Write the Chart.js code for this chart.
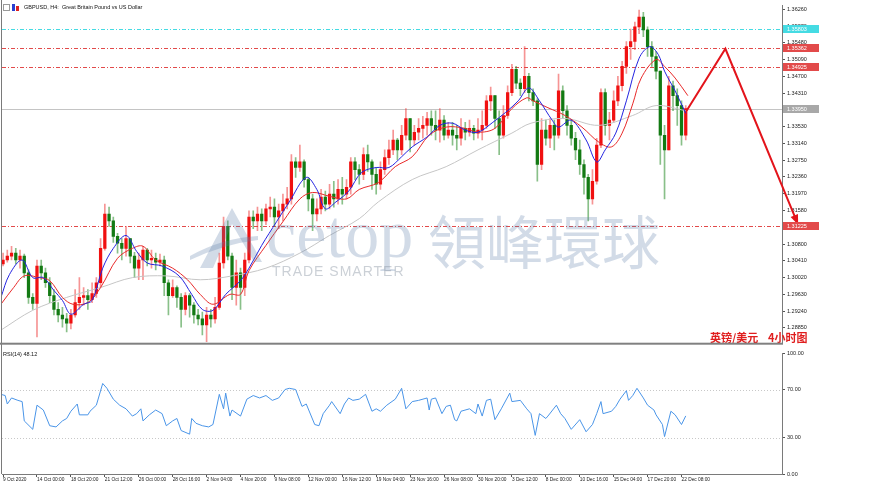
<!DOCTYPE html>
<html>
<head>
<meta charset="utf-8">
<script src="https://cdn.jsdelivr.net/npm/chart.js@4.4.0/dist/chart.umd.min.js"></script>
<style>
html, body { margin: 0; padding: 0; background: #fff; }
#wrap { position: relative; width: 870px; height: 487px; overflow: hidden; background: #fff; }
#main { position: absolute; left: 0; top: 0; }
#rsi { position: absolute; left: 0; top: 348px; }
</style>
</head>
<body>
<div id="wrap">
  <canvas id="main" width="870" height="348"></canvas>
  <canvas id="rsi" width="870" height="139"></canvas>
</div>
<script>
// GBPUSD H4 candles (one candle drawn per two 4h bars)
const firstOpen = 1.3034;
const closes = [
  1.3043,1.3052,1.3059,1.3043,1.3052,1.3013,1.2956,1.2942,1.3029,1.3013,
  1.2990,1.2960,1.2928,1.2915,1.2906,1.2896,1.2915,1.2944,1.2956,1.2960,
  1.2951,1.2965,1.2990,1.3070,1.3150,1.3134,1.3098,1.3082,1.3070,1.3093,
  1.3052,1.3024,1.3043,1.3066,1.3043,1.3047,1.3038,1.3043,1.2990,1.2960,
  1.2979,1.2956,1.2928,1.2960,1.2938,1.2915,1.2906,1.2892,1.2915,1.2906,
  1.2933,1.3036,1.3121,1.3052,1.2979,1.3013,1.2979,1.3043,1.3143,1.3134,
  1.3150,1.3134,1.3162,1.3166,1.3143,1.3157,1.3173,1.3185,1.3271,1.3258,
  1.3271,1.3230,1.3185,1.3150,1.3162,1.3189,1.3173,1.3196,1.3185,1.3207,
  1.3196,1.3212,1.3271,1.3253,1.3242,1.3288,1.3271,1.3242,1.3219,1.3253,
  1.3281,1.3299,1.3322,1.3299,1.3333,1.3372,1.3322,1.3340,1.3349,1.3356,
  1.3372,1.3356,1.3345,1.3368,1.3333,1.3345,1.3333,1.3326,1.3349,1.3340,
  1.3349,1.3338,1.3345,1.3356,1.3413,1.3425,1.3372,1.3333,1.3379,1.3432,
  1.3486,1.3454,1.3441,1.3470,1.3432,1.3413,1.3265,1.3345,1.3326,1.3356,
  1.3333,1.3436,1.3390,1.3356,1.3326,1.3299,1.3265,1.3235,1.3185,1.3226,
  1.3310,1.3432,1.3356,1.3368,1.3413,1.3448,1.3493,1.3539,1.3551,1.3585,
  1.3608,1.3578,1.3539,1.3516,1.3482,1.3333,1.3299,1.3448,1.3425,1.3402,
  1.3333,1.3395
];
const highs = [
  1.3059,1.3066,1.3075,1.3070,1.3066,1.3057,1.3020,1.2965,1.3043,1.3043,
  1.3024,1.3002,1.2974,1.2944,1.2933,1.2919,1.2928,1.2974,1.3002,1.2979,
  1.2974,1.2990,1.3002,1.3093,1.3173,1.3166,1.3143,1.3105,1.3093,1.3121,
  1.3093,1.3061,1.3059,1.3075,1.3070,1.3066,1.3059,1.3057,1.3052,1.2997,
  1.2997,1.2983,1.2965,1.2967,1.2965,1.2944,1.2928,1.2922,1.2933,1.2928,
  1.2956,1.3059,1.3143,1.3134,1.3059,1.3043,1.3024,1.3059,1.3157,1.3157,
  1.3166,1.3162,1.3173,1.3189,1.3185,1.3173,1.3196,1.3212,1.3288,1.3281,
  1.3310,1.3276,1.3235,1.3196,1.3185,1.3207,1.3203,1.3219,1.3226,1.3230,
  1.3235,1.3230,1.3281,1.3281,1.3265,1.3304,1.3310,1.3276,1.3258,1.3271,
  1.3299,1.3322,1.3345,1.3326,1.3356,1.3395,1.3372,1.3356,1.3372,1.3377,
  1.3386,1.3390,1.3390,1.3395,1.3379,1.3363,1.3363,1.3356,1.3372,1.3363,
  1.3368,1.3356,1.3372,1.3390,1.3425,1.3445,1.3425,1.3390,1.3402,1.3448,
  1.3498,1.3493,1.3464,1.3539,1.3477,1.3441,1.3418,1.3372,1.3368,1.3372,
  1.3368,1.3475,1.3448,1.3402,1.3368,1.3340,1.3322,1.3276,1.3242,1.3253,
  1.3326,1.3441,1.3441,1.3386,1.3436,1.3470,1.3505,1.3551,1.3580,1.3596,
  1.3624,1.3619,1.3585,1.3551,1.3528,1.3482,1.3356,1.3470,1.3459,1.3441,
  1.3413,1.3402
];
const lows = [
  1.3029,1.3038,1.3043,1.3034,1.3024,1.3002,1.2942,1.2928,1.2864,1.2997,
  1.2979,1.2944,1.2915,1.2899,1.2887,1.2876,1.2883,1.2910,1.2928,1.2938,
  1.2928,1.2944,1.2956,1.2979,1.3066,1.3121,1.3084,1.3059,1.3043,1.3052,
  1.3036,1.3002,1.2997,1.2997,1.3029,1.3024,1.3020,1.3029,1.2960,1.2915,
  1.2956,1.2933,1.2887,1.2915,1.2910,1.2896,1.2892,1.2869,1.2853,1.2887,
  1.2896,1.2928,1.3024,1.3043,1.2951,1.2938,1.2928,1.2960,1.3036,1.3116,
  1.3111,1.3111,1.3125,1.3143,1.3121,1.3116,1.3134,1.3162,1.3173,1.3235,
  1.3249,1.3212,1.3157,1.3111,1.3134,1.3150,1.3157,1.3162,1.3166,1.3173,
  1.3173,1.3185,1.3196,1.3230,1.3219,1.3230,1.3249,1.3207,1.3196,1.3207,
  1.3242,1.3265,1.3288,1.3276,1.3288,1.3322,1.3294,1.3310,1.3322,1.3326,
  1.3333,1.3333,1.3322,1.3317,1.3322,1.3326,1.3310,1.3299,1.3310,1.3322,
  1.3331,1.3322,1.3326,1.3322,1.3349,1.3390,1.3349,1.3288,1.3326,1.3372,
  1.3425,1.3441,1.3425,1.3432,1.3413,1.3402,1.3226,1.3253,1.3310,1.3304,
  1.3299,1.3326,1.3372,1.3333,1.3310,1.3276,1.3242,1.3196,1.3134,1.3173,
  1.3219,1.3304,1.3333,1.3322,1.3363,1.3402,1.3436,1.3477,1.3509,1.3532,
  1.3569,1.3562,1.3516,1.3493,1.3464,1.3265,1.3185,1.3299,1.3390,1.3356,
  1.3310,1.3322
];

// moving averages, [bar, price] read at points along each line
const fastMA = [
  [-1,1.2956],[3,1.3009],[9,1.3043],[14,1.3002],[19,1.3002],[24,1.2972],[28,1.2949],[32,1.2917],
  [38,1.2940],[42,1.2949],[47,1.3024],[52,1.3070],[58,1.3100],[63,1.3063],[68,1.3036],[75,1.3029],
  [83,1.3006],[89,1.2963],[94,1.2928],[99,1.2926],[105,1.2963],[112,1.2995],[116,1.3024],[122,1.3077],
  [129,1.3132],[135,1.3178],[143,1.3235],[148,1.3207],[152,1.3162],[157,1.3178],[163,1.3203],[169,1.3246],
  [176,1.3258],[182,1.3258],[188,1.3283],[193,1.3306],[200,1.3329],[206,1.3356],[212,1.3361],[218,1.3345],
  [224,1.3340],[231,1.3363],[237,1.3386],[243,1.3413],[248,1.3443],[253,1.3413],[259,1.3368],[262,1.3352],
  [268,1.3368],[275,1.3322],[280,1.3271],[284,1.3299],[289,1.3338],[294,1.3413],[300,1.3512],[305,1.3539],
  [309,1.3521],[312,1.3482],[317,1.3436],[322,1.3384]
];
const midMA = [
  [-1,1.2940],[5,1.2979],[10,1.3006],[17,1.3002],[22,1.2995],[28,1.2956],[33,1.2940],[40,1.2944],
  [46,1.2979],[54,1.3047],[61,1.3070],[66,1.3075],[72,1.3043],[80,1.3024],[87,1.2997],[93,1.2963],
  [99,1.2940],[107,1.2963],[112,1.2963],[116,1.3018],[124,1.3077],[132,1.3132],[140,1.3185],[146,1.3200],
  [154,1.3191],[162,1.3185],[168,1.3207],[177,1.3223],[185,1.3260],[193,1.3283],[201,1.3333],[209,1.3352],
  [218,1.3349],[224,1.3340],[232,1.3349],[240,1.3395],[247,1.3420],[250,1.3413],[257,1.3397],[265,1.3379],
  [273,1.3352],[281,1.3317],[287,1.3306],[292,1.3338],[297,1.3406],[301,1.3466],[308,1.3509],[312,1.3493],
  [317,1.3466],[323,1.3425]
];
const slowMA = [
  [-1,1.2880],[14,1.2926],[30,1.2956],[46,1.2979],[61,1.3002],[77,1.3006],[93,1.2997],[108,1.3006],
  [124,1.3024],[140,1.3059],[154,1.3100],[168,1.3139],[177,1.3178],[193,1.3230],[209,1.3260],[224,1.3299],
  [240,1.3338],[249,1.3361],[265,1.3372],[281,1.3356],[297,1.3379],[308,1.3402],[322,1.3390]
];

// RSI(14), [bar, value]
const rsiPoints = [
  [-1,66],[1,65],[2,58],[4,63],[7,61],[9,60],[10,44],[14,37],[16,57],[19,53],[22,40],[25,39],[28,44],
  [30,46],[32,52],[35,58],[36,49],[40,49],[41,52],[44,57],[47,75],[49,71],[52,62],[55,57],[58,54],
  [61,48],[63,50],[65,54],[66,44],[69,49],[72,53],[75,50],[77,40],[80,44],[82,46],[84,36],[88,33],
  [89,46],[91,42],[94,40],[97,39],[99,41],[102,66],[104,54],[105,67],[107,48],[108,53],[112,48],
  [115,62],[118,65],[121,63],[124,65],[127,61],[130,63],[133,70],[135,71],[138,70],[141,56],[143,58],
  [147,41],[149,40],[151,50],[154,57],[155,60],[159,50],[161,58],[163,63],[165,61],[168,62],[171,66],
  [174,52],[176,54],[178,52],[181,57],[185,62],[188,71],[190,54],[193,60],[196,61],[200,63],[201,53],
  [202,62],[204,63],[207,50],[209,56],[211,57],[213,45],[214,44],[216,52],[220,54],[223,50],[224,58],
  [226,48],[228,61],[230,62],[232,45],[235,54],[239,67],[240,60],[244,61],[247,54],[249,50],[251,32],
  [253,50],[256,46],[257,48],[261,57],[263,50],[265,46],[268,37],[272,45],[275,35],[278,41],[280,50],
  [282,60],[283,50],[287,52],[289,56],[291,62],[294,69],[295,61],[297,65],[299,71],[302,63],[304,57],
  [307,53],[308,49],[311,41],[312,31],[315,52],[317,49],[320,41],[322,48.12]
];

// hand drawn forecast arrow, [bar, price]
const arrowX = [322.4, 340.7, 375];
const arrowY = [1.3390, 1.3534, 1.3125];

// horizontal levels
const levelValues = [1.35803, 1.35362, 1.34925, 1.31225];
const levelColors = ['#45dbe3', '#e24a4a', '#e24a4a', '#e24a4a'];
const bidValue = 1.33950;

const priceTicks = [1.36260,1.35870,1.35480,1.35090,1.34700,1.34310,1.33920,1.33530,1.33140,1.32750,
  1.32360,1.31970,1.31580,1.31190,1.30800,1.30410,1.30020,1.29630,1.29240,1.28850];
const rsiTicks = [0, 30, 70, 100];
const rsiLevels = [30, 70];
const dateLabels = ['9 Oct 2020','14 Oct 00:00','18 Oct 20:00','21 Oct 12:00','26 Oct 00:00','28 Oct 16:00',
  '2 Nov 04:00','4 Nov 20:00','9 Nov 08:00','12 Nov 00:00','16 Nov 12:00','19 Nov 04:00','23 Nov 16:00',
  '26 Nov 08:00','30 Nov 20:00','3 Dec 12:00','8 Dec 00:00','10 Dec 16:00','15 Dec 04:00','17 Dec 20:00',
  '22 Dec 08:00'];

const X_MIN = -0.5, X_MAX = 367.4;
const Y_MIN = 1.28507, Y_MAX = 1.36351;
const FONT = 'Liberation Sans';
Chart.defaults.font.family = FONT;

const opens = closes.map((c, k) => k === 0 ? firstOpen : closes[k - 1]);
const candleX = closes.map((c, k) => 2 * k);
const upColor = '#f01010', downColor = '#137a13';
const bodyColors = closes.map((c, k) => c >= opens[k] ? upColor : downColor);
const wickColors = closes.map((c, k) => c >= opens[k] ? 'rgba(238,60,60,0.55)' : 'rgba(40,140,40,0.55)');

const toXY = arr => arr.map(p => ({ x: p[0], y: p[1] }));

const mainDecor = {
  id: 'mainDecor',
  beforeDraw(chart) {
    const ctx = chart.ctx;
    ctx.save();
    ctx.fillStyle = '#fff';
    ctx.fillRect(0, 0, chart.width, chart.height);
    ctx.restore();
  },
  beforeDatasetsDraw(chart) {
    const { ctx, chartArea: a, scales: { y } } = chart;
    ctx.save();
    // bid line
    const by = Math.round(y.getPixelForValue(bidValue)) + 0.5;
    ctx.strokeStyle = '#c4c4c4';
    ctx.lineWidth = 1;
    ctx.beginPath(); ctx.moveTo(a.left, by); ctx.lineTo(a.right, by); ctx.stroke();
    // dash-dot levels
    ctx.setLineDash([4, 2, 1, 2]);
    levelValues.forEach((v, i) => {
      const py = Math.round(y.getPixelForValue(v)) + 0.5;
      ctx.strokeStyle = levelColors[i];
      ctx.beginPath(); ctx.moveTo(a.left, py); ctx.lineTo(a.right, py); ctx.stroke();
    });
    ctx.restore();
  },
  afterDatasetsDraw(chart) {
    const { ctx, chartArea: a, scales: { x, y } } = chart;
    ctx.save();
    // arrow head
    const n = arrowX.length;
    const x1 = x.getPixelForValue(arrowX[n - 2]), y1 = y.getPixelForValue(arrowY[n - 2]);
    const x2 = x.getPixelForValue(arrowX[n - 1]), y2 = y.getPixelForValue(arrowY[n - 1]);
    const ang = Math.atan2(y2 - y1, x2 - x1);
    ctx.fillStyle = '#e3141b';
    ctx.beginPath();
    ctx.moveTo(x2, y2);
    ctx.lineTo(x2 - 10 * Math.cos(ang) + 4 * Math.sin(ang), y2 - 10 * Math.sin(ang) - 4 * Math.cos(ang));
    ctx.lineTo(x2 - 10 * Math.cos(ang) - 4 * Math.sin(ang), y2 - 10 * Math.sin(ang) + 4 * Math.cos(ang));
    ctx.closePath(); ctx.fill();

    // watermark: stylised "A" logo + "cetop 領峰環球" + tagline
    ctx.fillStyle = 'rgba(95,125,170,0.28)';
    ctx.beginPath();
    ctx.moveTo(200, 268); ctx.lineTo(232, 208); ctx.lineTo(262, 262); ctx.lineTo(254, 262);
    ctx.lineTo(232, 224); ctx.lineTo(213, 268); ctx.closePath(); ctx.fill();
    ctx.beginPath();
    ctx.moveTo(190, 256); ctx.quadraticCurveTo(222, 238, 258, 236); ctx.lineTo(258, 240);
    ctx.quadraticCurveTo(224, 244, 190, 260); ctx.closePath(); ctx.fill();
    ctx.font = '68px "Liberation Serif"';
    ctx.textBaseline = 'alphabetic';
    ctx.fillText('cetop', 266, 257);
    ctx.font = '58px "Noto Sans CJK TC"';
    ctx.textBaseline = 'middle';
    ctx.fillText('領峰環球', 428, 242);
    ctx.fillStyle = 'rgba(140,150,165,0.45)';
    ctx.font = '14px "Liberation Sans"';
    ctx.letterSpacing = '1px';
    ctx.fillText('TRADE SMARTER', 272, 272);
    ctx.letterSpacing = '0px';

    // title
    ctx.fillStyle = '#9a9a9a'; ctx.fillRect(3, 4, 7, 7);
    ctx.fillStyle = '#fff'; ctx.fillRect(4, 5, 5, 5);
    ctx.fillStyle = '#2a3fd0'; ctx.fillRect(12, 4, 3, 7);
    ctx.fillStyle = '#d22'; ctx.fillRect(16, 6, 3, 5);
    ctx.fillStyle = '#111';
    ctx.font = '5.5px "Liberation Sans"';
    ctx.textBaseline = 'middle';
    ctx.fillText('GBPUSD, H4:  Great Britain Pound vs US Dollar', 24, 7.5);

    // chinese caption
    ctx.fillStyle = '#e01e1e';
    ctx.font = 'bold 11px "Noto Sans CJK SC"';
    ctx.fillText('英镑/美元', 710, 338);
    ctx.fillText('4小时图', 768, 338);

    // frame
    ctx.strokeStyle = '#7a7a7a';
    ctx.lineWidth = 1;
    ctx.beginPath(); ctx.moveTo(1.5, 0); ctx.lineTo(1.5, chart.height); ctx.stroke();
    ctx.fillStyle = '#808080';
    ctx.fillRect(0, a.bottom, a.right + 1, 2);

    // level labels on the axis
    const box = (v, bg, fg) => {
      const py = Math.round(y.getPixelForValue(v));
      ctx.fillStyle = bg; ctx.fillRect(a.right + 1, py - 4, 36, 8);
      ctx.fillStyle = fg; ctx.font = '5.5px "Liberation Sans"';
      ctx.textBaseline = 'middle';
      ctx.fillText(v.toFixed(5), a.right + 5, py + 0.5);
    };
    box(bidValue, '#a8a8a8', '#fff');
    levelValues.forEach((v, i) => box(v, levelColors[i], '#fff'));
    ctx.restore();
  }
};

new Chart(document.getElementById('main').getContext('2d'), {
  type: 'bar',
  data: {
    datasets: [
      { type: 'line', data: arrowX.map((v, i) => ({ x: v, y: arrowY[i] })), borderColor: '#e3141b',
        borderWidth: 2, pointRadius: 0, clip: false, order: 0 },
      { type: 'line', data: toXY(fastMA), borderColor: '#2424e0', borderWidth: 1, pointRadius: 0,
        tension: 0.35, order: 1 },
      { type: 'line', data: toXY(midMA), borderColor: '#e82a2a', borderWidth: 1, pointRadius: 0,
        tension: 0.35, order: 2 },
      { type: 'line', data: toXY(slowMA), borderColor: '#c6c6c6', borderWidth: 1, pointRadius: 0,
        tension: 0.35, order: 3 },
      { type: 'bar', data: candleX.map((v, k) => ({ x: v, y: [opens[k], closes[k]] })),
        backgroundColor: bodyColors, barThickness: 2.6, grouped: false, minBarLength: 1, order: 4 },
      { type: 'bar', data: candleX.map((v, k) => ({ x: v, y: [lows[k], highs[k]] })),
        backgroundColor: wickColors, barThickness: 1, grouped: false, order: 5 }
    ]
  },
  options: {
    responsive: false,
    animation: false,
    devicePixelRatio: 1,
    layout: { padding: { left: 2, top: 3, right: 0, bottom: 2 } },
    plugins: { legend: { display: false }, tooltip: { enabled: false } },
    scales: {
      x: { type: 'linear', min: X_MIN, max: X_MAX, offset: false, display: false },
      y: {
        position: 'right', min: Y_MIN, max: Y_MAX,
        afterBuildTicks: ax => { ax.ticks = priceTicks.map(v => ({ value: v })); },
        afterFit: ax => { ax.width = 88; },
        ticks: { autoSkip: false, font: { size: 5.5 }, color: '#222', padding: 2,
          callback: v => Number(v).toFixed(5) },
        grid: { drawOnChartArea: false, tickLength: 3, color: '#555' },
        border: { color: '#7a7a7a' }
      }
    }
  },
  plugins: [mainDecor]
});

const rsiDecor = {
  id: 'rsiDecor',
  beforeDraw(chart) {
    const ctx = chart.ctx;
    ctx.save(); ctx.fillStyle = '#fff'; ctx.fillRect(0, 0, chart.width, chart.height); ctx.restore();
  },
  beforeDatasetsDraw(chart) {
    const { ctx, chartArea: a, scales: { y } } = chart;
    ctx.save();
    ctx.strokeStyle = '#c8c8c8';
    ctx.lineWidth = 1;
    ctx.setLineDash([1, 2]);
    rsiLevels.forEach(v => {
      const py = Math.round(y.getPixelForValue(v)) + 0.5;
      ctx.beginPath(); ctx.moveTo(a.left, py); ctx.lineTo(a.right, py); ctx.stroke();
    });
    ctx.restore();
  },
  afterDraw(chart) {
    const { ctx, chartArea: a } = chart;
    ctx.save();
    ctx.fillStyle = '#111';
    ctx.font = '5.5px "Liberation Sans"';
    ctx.textBaseline = 'middle';
    ctx.fillText('RSI(14) 48.12', 3, 6);
    ctx.strokeStyle = '#7a7a7a';
    ctx.beginPath(); ctx.moveTo(1.5, 0); ctx.lineTo(1.5, a.bottom); ctx.stroke();
    ctx.restore();
  }
};

new Chart(document.getElementById('rsi').getContext('2d'), {
  type: 'line',
  data: {
    datasets: [{ data: toXY(rsiPoints), borderColor: '#4a95e8', borderWidth: 1, pointRadius: 0, tension: 0 }]
  },
  options: {
    responsive: false,
    animation: false,
    devicePixelRatio: 1,
    layout: { padding: { left: 2, top: 2, right: 0, bottom: 0 } },
    plugins: { legend: { display: false }, tooltip: { enabled: false } },
    scales: {
      x: {
        type: 'linear', min: X_MIN, max: X_MAX, offset: false,
        afterBuildTicks: ax => { ax.ticks = dateLabels.map((d, i) => ({ value: i * 16 })); },
        afterFit: ax => { ax.height = 13; },
        ticks: { autoSkip: false, maxRotation: 0, align: 'start', font: { size: 4.8 }, color: '#222', padding: 0,
          callback: (v, i) => dateLabels[i] },
        grid: { drawOnChartArea: false, tickLength: 3, color: '#555' },
        border: { color: '#7a7a7a' }
      },
      y: {
        position: 'right', min: 0, max: 100,
        afterBuildTicks: ax => { ax.ticks = rsiTicks.map(v => ({ value: v })); },
        afterFit: ax => { ax.width = 88; },
        ticks: { autoSkip: false, font: { size: 5.5 }, color: '#222', padding: 2,
          callback: v => Number(v).toFixed(2) },
        grid: { drawOnChartArea: false, tickLength: 3, color: '#555' },
        border: { color: '#7a7a7a' }
      }
    }
  },
  plugins: [rsiDecor]
});
</script>
</body>
</html>
